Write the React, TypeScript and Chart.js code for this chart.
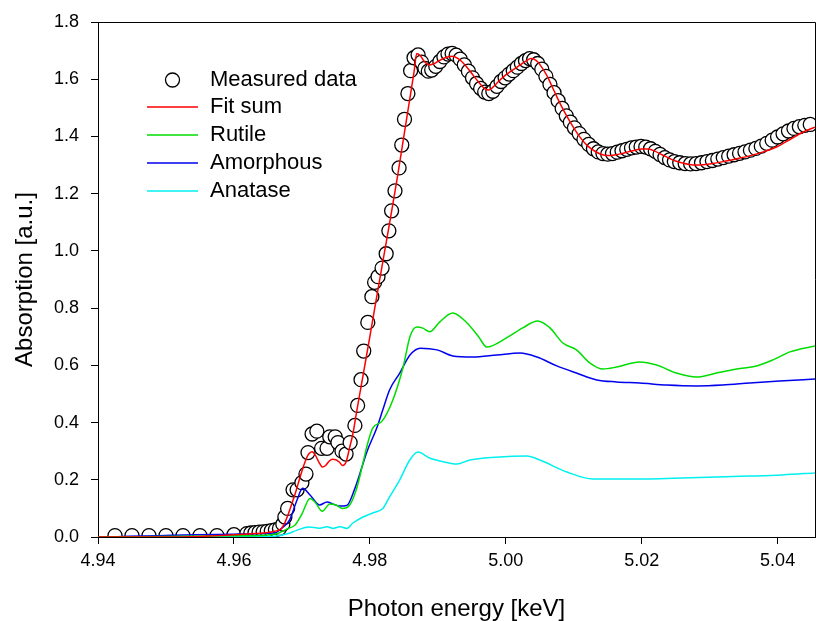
import React, { useEffect, useRef } from "react";
import { Chart, registerables } from "chart.js";

Chart.register(...registerables);

const FONT = 'Arial, "Liberation Sans", sans-serif';

// Axis ranges and tick labels
const xMin = 4.94;
const xMax = 5.0455;
const xTicks = [4.94, 4.96, 4.98, 5.0, 5.02, 5.04];
const yTicks = [0, 0.2, 0.4, 0.6, 0.8, 1.0, 1.2, 1.4, 1.6, 1.8];

// Series names
const seriesNames = ["Measured data", "Fit sum", "Rutile", "Amorphous", "Anatase"];

// Measured data (circles)
const measuredE = [
  4.9425, 4.945, 4.9475, 4.95, 4.9525, 4.955, 4.9575, 4.96,
  4.9619, 4.9625, 4.9631, 4.9637, 4.9643, 4.9649, 4.9655, 4.9661, 4.9667, 4.9672,
  4.9675, 4.9679, 4.9687, 4.9693, 4.97, 4.9706, 4.9709, 4.9715, 4.9722, 4.9729,
  4.9737, 4.9741, 4.9749, 4.9753, 4.9759, 4.9765, 4.9771, 4.9778, 4.9782, 4.9787,
  4.9791, 4.9797, 4.9803, 4.9807, 4.9812, 4.9818, 4.9824, 4.9828, 4.9832, 4.9837,
  4.9843, 4.9847, 4.9851, 4.9856, 4.986, 4.9865, 4.9871, 4.9876, 4.9881, 4.9886,
  4.9891, 4.9897, 4.9903, 4.9909, 4.9915, 4.9921, 4.9927, 4.9933, 4.9939, 4.9945,
  4.9951, 4.9957, 4.9963, 4.9969, 4.9975, 4.9981, 4.9987, 4.9993, 4.9999, 5.0005,
  5.0011, 5.0017, 5.0023, 5.0029, 5.0035, 5.0041, 5.0047, 5.0053, 5.0059, 5.0065,
  5.0071, 5.0077, 5.0083, 5.0089, 5.0095, 5.0101, 5.0108, 5.0115, 5.0122, 5.0129,
  5.0136, 5.0143, 5.015, 5.0157, 5.0164, 5.0171, 5.0178, 5.0185, 5.0192, 5.0199,
  5.0206, 5.0213, 5.022, 5.0227, 5.0234, 5.0241, 5.0248, 5.0256, 5.0264, 5.0272,
  5.028, 5.0288, 5.0296, 5.0304, 5.0312, 5.032, 5.0328, 5.0336, 5.0344, 5.0352,
  5.036, 5.0368, 5.0376, 5.0384, 5.0392, 5.04, 5.0408, 5.0416, 5.0424, 5.0432,
  5.044, 5.0448,
];
const measuredA = [
  0.005, 0.005, 0.005, 0.005, 0.005, 0.005, 0.005, 0.008,
  0.012, 0.014, 0.015, 0.017, 0.018, 0.02, 0.022, 0.025, 0.03, 0.045,
  0.07, 0.1, 0.165, 0.165, 0.19, 0.22, 0.295, 0.36, 0.37, 0.31,
  0.31, 0.35, 0.35, 0.33, 0.3, 0.29, 0.33, 0.39, 0.46, 0.55,
  0.65, 0.75, 0.84, 0.89, 0.91, 0.94, 0.99, 1.07, 1.14, 1.21,
  1.29, 1.37, 1.46, 1.55, 1.63, 1.675, 1.685, 1.66, 1.638, 1.628,
  1.632, 1.645, 1.662, 1.678, 1.688, 1.69, 1.684, 1.67, 1.65, 1.628,
  1.605, 1.585, 1.568, 1.555, 1.55, 1.558, 1.575, 1.592, 1.605, 1.618,
  1.63, 1.642, 1.655, 1.665, 1.672, 1.668, 1.655, 1.635, 1.61, 1.582,
  1.553, 1.525, 1.498, 1.472, 1.45, 1.43, 1.41, 1.39, 1.372, 1.357,
  1.346, 1.34, 1.338, 1.34, 1.345, 1.35, 1.355, 1.36, 1.363, 1.365,
  1.363, 1.357, 1.348, 1.337, 1.326, 1.318, 1.312, 1.308, 1.305, 1.304,
  1.305, 1.308, 1.312, 1.316, 1.321, 1.326, 1.331, 1.336, 1.341, 1.346,
  1.352, 1.358, 1.366, 1.376, 1.387, 1.398, 1.409, 1.419, 1.428, 1.434,
  1.439, 1.442,
];

// Fit sum (red)
const fitE = [
  4.94, 4.95, 4.955, 4.96, 4.963, 4.965, 4.966, 4.967, 4.9675, 4.968, 4.9685, 4.969,
  4.9695, 4.97, 4.9705, 4.971, 4.9715, 4.972, 4.9725, 4.973, 4.9735, 4.974, 4.9745,
  4.975, 4.9755, 4.976, 4.9765, 4.977, 4.9775, 4.978, 4.979, 4.98, 4.981, 4.982,
  4.983, 4.984, 4.985, 4.986, 4.9865, 4.9869, 4.9875, 4.988, 4.9888, 4.9895, 4.99,
  4.991, 4.992, 4.993, 4.994, 4.995, 4.996, 4.997, 4.9975, 4.998, 4.999, 5.0, 5.001,
  5.002, 5.003, 5.0037, 5.0045, 5.005, 5.006, 5.007, 5.008, 5.009, 5.01, 5.011, 5.012,
  5.013, 5.014, 5.015, 5.016, 5.017, 5.018, 5.019, 5.02, 5.021, 5.022, 5.023, 5.024,
  5.025, 5.026, 5.027, 5.028, 5.029, 5.03, 5.032, 5.034, 5.036, 5.038, 5.04, 5.042,
  5.044, 5.0455,
];
const fitA = [
  0, 0, 0.002, 0.008, 0.012, 0.016, 0.02, 0.03, 0.05, 0.08, 0.115, 0.15,
  0.19, 0.23, 0.265, 0.29, 0.298, 0.285, 0.262, 0.245, 0.25, 0.265, 0.272,
  0.27, 0.262, 0.25, 0.262, 0.31, 0.36, 0.43, 0.565, 0.7, 0.838, 0.975,
  1.11, 1.25, 1.4, 1.55, 1.625, 1.69, 1.68, 1.662, 1.65, 1.655, 1.662,
  1.674, 1.68, 1.672, 1.65, 1.62, 1.59, 1.565, 1.562, 1.57, 1.594, 1.615, 1.632,
  1.648, 1.664, 1.672, 1.665, 1.652, 1.615, 1.565, 1.515, 1.47, 1.43, 1.395, 1.368,
  1.35, 1.338, 1.333, 1.335, 1.34, 1.346, 1.352, 1.356, 1.356, 1.348, 1.336, 1.324,
  1.314, 1.307, 1.302, 1.3, 1.301, 1.304, 1.312, 1.322, 1.333, 1.347, 1.365, 1.392,
  1.418, 1.432,
];

// Rutile (green)
const rutileE = [
  4.94, 4.96, 4.966, 4.968, 4.969, 4.97, 4.9712, 4.972, 4.973, 4.9741, 4.975, 4.976,
  4.9768, 4.978, 4.979, 4.9796, 4.9804, 4.9818, 4.9834, 4.9849, 4.9859, 4.9869,
  4.9878, 4.9888, 4.9903, 4.9922, 4.9943, 4.996, 4.9972, 5.0001, 5.0025, 5.0047,
  5.0065, 5.0084, 5.0104, 5.0124, 5.0143, 5.0163, 5.0197, 5.0222, 5.0251, 5.0281,
  5.031, 5.034, 5.0369, 5.0393, 5.0418, 5.0455,
];
const rutileA = [
  0, 0.004, 0.01, 0.03, 0.042, 0.08, 0.135, 0.12, 0.09, 0.115, 0.112, 0.1,
  0.105, 0.165, 0.26, 0.32, 0.38, 0.405, 0.48, 0.594, 0.7, 0.734,
  0.73, 0.717, 0.752, 0.783, 0.748, 0.7, 0.664, 0.696, 0.731, 0.755,
  0.731, 0.678, 0.654, 0.608, 0.587, 0.594, 0.612, 0.601, 0.573, 0.559,
  0.573, 0.587, 0.598, 0.619, 0.647, 0.668,
];

// Amorphous (blue)
const amorphousE = [
  4.94, 4.96, 4.966, 4.967, 4.9682, 4.9693, 4.9701, 4.9712, 4.9726, 4.9737, 4.9746,
  4.9756, 4.9766, 4.9778, 4.9796, 4.981, 4.9819, 4.9829, 4.9844, 4.9859, 4.9874,
  4.9899, 4.9922, 4.9951, 4.9987, 5.0021, 5.0046, 5.0075, 5.0104, 5.0134, 5.0163,
  5.0197, 5.0237, 5.0281, 5.0319, 5.0359, 5.0403, 5.0455,
];
const amorphousA = [
  0, 0.01, 0.014, 0.03, 0.06, 0.13, 0.17, 0.147, 0.112, 0.122, 0.115,
  0.108, 0.11, 0.17, 0.3, 0.38, 0.444, 0.514, 0.573, 0.636, 0.66,
  0.654, 0.633, 0.629, 0.636, 0.643, 0.629, 0.598, 0.573, 0.549, 0.542,
  0.538, 0.531, 0.528, 0.531, 0.538, 0.545, 0.552,
];

// Anatase (cyan)
const anataseE = [
  4.94, 4.966, 4.968, 4.9693, 4.971, 4.9726, 4.9737, 4.9746, 4.9756, 4.9766, 4.9775,
  4.979, 4.9804, 4.9819, 4.9829, 4.9844, 4.9859, 4.9871, 4.9888, 4.991, 4.9928,
  4.9947, 4.9991, 5.0031, 5.005, 5.009, 5.0128, 5.0163, 5.0212, 5.026, 5.031, 5.0359,
  5.0407, 5.0455,
];
const anataseA = [
  0, 0.003, 0.012, 0.024, 0.035, 0.031, 0.036, 0.03, 0.036, 0.03, 0.049,
  0.07, 0.084, 0.1, 0.14, 0.2, 0.27, 0.297, 0.276, 0.262, 0.255,
  0.269, 0.28, 0.283, 0.269, 0.227, 0.203, 0.203, 0.203, 0.206, 0.21, 0.213,
  0.217, 0.224,
];

const lineColors = ["#ff0000", "#00dd00", "#0000ee", "#00f0f0"];

const toPoints = (xs: number[], ys: number[]) => xs.map((x, i) => ({ x, y: ys[i] }));

const framePlugin = {
  id: "frame",
  afterDraw(chart: any) {
    const { ctx, chartArea } = chart;
    ctx.save();
    ctx.strokeStyle = "#000";
    ctx.lineWidth = 1;
    ctx.beginPath();
    ctx.moveTo(chartArea.left, chartArea.top + 0.5);
    ctx.lineTo(chartArea.right + 0.5, chartArea.top + 0.5);
    ctx.lineTo(chartArea.right + 0.5, chartArea.bottom);
    ctx.stroke();
    ctx.restore();
  },
};

const legendPlugin = {
  id: "insideLegend",
  afterDraw(chart: any) {
    const { ctx, chartArea } = chart;
    const x0 = chartArea.left + 49;
    const x1 = chartArea.left + 100;
    const tx = chartArea.left + 112;
    const rows = [chartArea.top + 58, chartArea.top + 85, chartArea.top + 113, chartArea.top + 141, chartArea.top + 169];
    ctx.save();
    ctx.font = `22px ${FONT}`;
    ctx.fillStyle = "#000";
    ctx.textBaseline = "middle";
    ctx.textAlign = "left";
    // measured data marker
    ctx.beginPath();
    ctx.arc((x0 + x1) / 2, rows[0], 7, 0, Math.PI * 2);
    ctx.fillStyle = "#fff";
    ctx.fill();
    ctx.strokeStyle = "#000";
    ctx.lineWidth = 1.3;
    ctx.stroke();
    ctx.fillStyle = "#000";
    ctx.fillText(seriesNames[0], tx, rows[0]);
    for (let i = 1; i < seriesNames.length; i++) {
      ctx.beginPath();
      ctx.strokeStyle = lineColors[i - 1];
      ctx.lineWidth = 1.5;
      ctx.moveTo(x0, rows[i]);
      ctx.lineTo(x1, rows[i]);
      ctx.stroke();
      ctx.fillText(seriesNames[i], tx, rows[i]);
    }
    ctx.restore();
  },
};

export default function App() {
  const ref = useRef<HTMLCanvasElement>(null);

  useEffect(() => {
    if (!ref.current) return;
    const lineDs = (label: string, xs: number[], ys: number[], color: string, order: number) => ({
      label,
      data: toPoints(xs, ys),
      showLine: true,
      borderColor: color,
      backgroundColor: color,
      borderWidth: 1.5,
      pointRadius: 0,
      pointHoverRadius: 0,
      tension: 0,
      cubicInterpolationMode: "monotone" as const,
      order,
    });
    const chart = new Chart(ref.current, {
      type: "scatter",
      data: {
        datasets: [
          lineDs(seriesNames[1], fitE, fitA, lineColors[0], 0),
          lineDs(seriesNames[2], rutileE, rutileA, lineColors[1], 1),
          lineDs(seriesNames[3], amorphousE, amorphousA, lineColors[2], 1),
          lineDs(seriesNames[4], anataseE, anataseA, lineColors[3], 1),
          {
            label: seriesNames[0],
            data: toPoints(measuredE, measuredA),
            showLine: false,
            pointRadius: 7,
            pointHoverRadius: 7,
            pointBorderWidth: 1.3,
            pointBorderColor: "#000",
            pointBackgroundColor: "#fff",
            order: 5,
          } as any,
        ],
      },
      options: {
        animation: false,
        responsive: false,
        maintainAspectRatio: false,
        layout: { autoPadding: false, padding: { left: 0, top: 22, right: 2, bottom: 0 } },
        plugins: { legend: { display: false }, tooltip: { enabled: false } },
        scales: {
          x: {
            type: "linear",
            min: xMin,
            max: xMax,
            afterBuildTicks: (s: any) => {
              s.ticks = xTicks.map((v) => ({ value: v }));
            },
            afterFit: (s: any) => {
              s.height = 84;
              s.paddingLeft = 0;
              s.paddingRight = 0;
            },
            ticks: {
              callback: (v: any) => Number(v).toFixed(2),
              font: { family: FONT, size: 18 },
              color: "#000",
              padding: 6,
              maxRotation: 0,
              autoSkip: false,
            },
            grid: { drawOnChartArea: false, tickLength: 7, color: "#000", tickWidth: 1 },
            border: { display: true, color: "#000", width: 1 },
            title: {
              display: true,
              text: "Photon energy [keV]",
              font: { family: FONT, size: 24 },
              color: "#000",
              padding: { top: 0, bottom: -3 },
            },
          },
          y: {
            type: "linear",
            min: 0,
            max: 1.8,
            afterBuildTicks: (s: any) => {
              s.ticks = yTicks.map((v) => ({ value: v }));
            },
            afterFit: (s: any) => {
              s.width = 98;
              s.paddingTop = 0;
              s.paddingBottom = 0;
            },
            ticks: {
              callback: (v: any) => Number(v).toFixed(1),
              font: { family: FONT, size: 18 },
              color: "#000",
              padding: 12,
              autoSkip: false,
            },
            grid: { drawOnChartArea: false, tickLength: 7, color: "#000", tickWidth: 1 },
            border: { display: true, color: "#000", width: 1 },
            title: {
              display: true,
              text: "Absorption [a.u.]",
              font: { family: FONT, size: 24 },
              color: "#000",
              padding: { top: 11, bottom: 0 },
            },
          },
        },
      },
      plugins: [framePlugin, legendPlugin],
    });
    return () => chart.destroy();
  }, []);

  return (
    <div style={{ position: "absolute", left: 0, top: 0, width: 817, height: 621, background: "#fff" }}>
      <canvas ref={ref} width={817} height={621} style={{ display: "block" }} />
    </div>
  );
}
